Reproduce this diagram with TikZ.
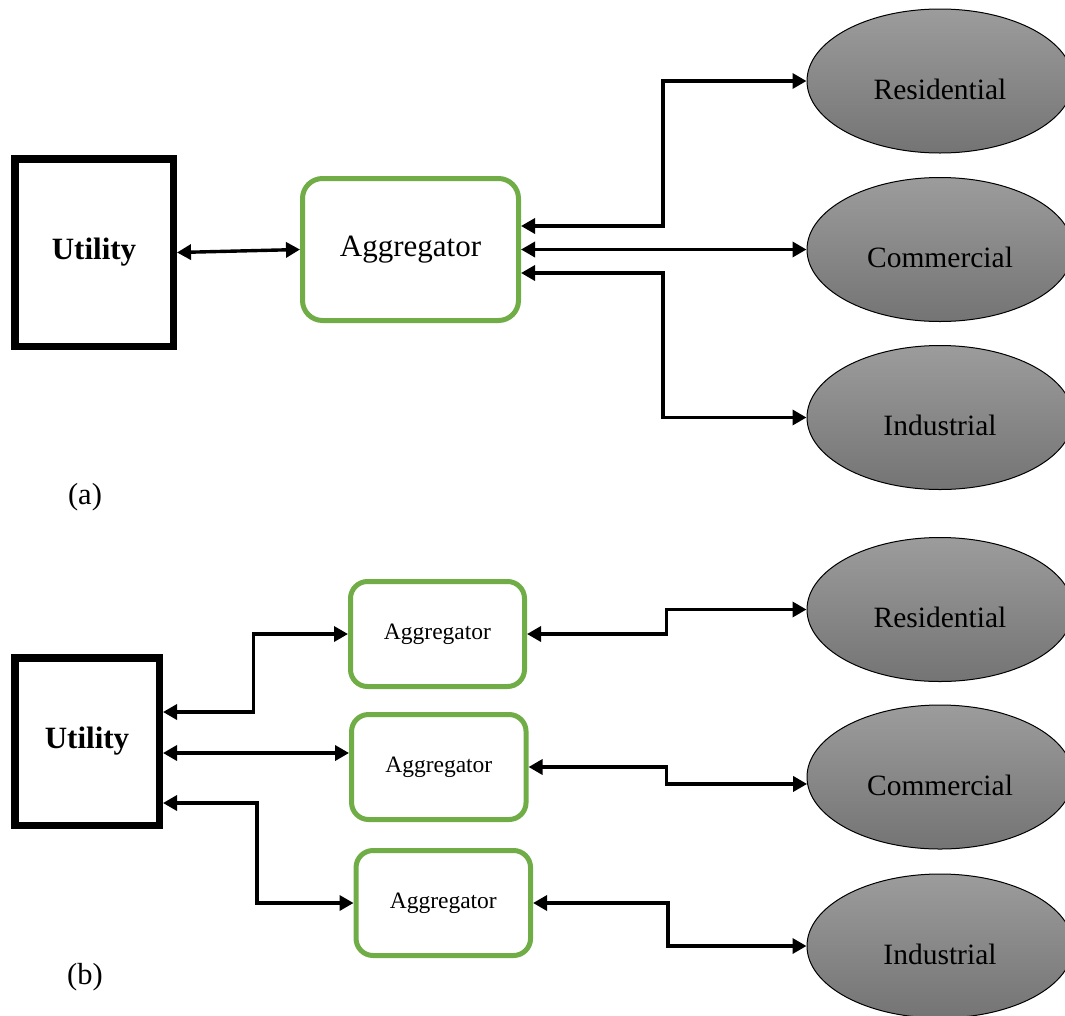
\documentclass[tikz,border=0pt]{standalone}
\usepackage{fontspec}
\setmainfont{Liberation Serif}
\usetikzlibrary{arrows.meta,shapes.geometric}
\definecolor{aggreen}{RGB}{112,173,71}
\definecolor{elltop}{RGB}{156,156,156}
\definecolor{ellbot}{RGB}{116,116,116}
\begin{document}
\begin{tikzpicture}[x=1pt,y=-1pt,
  utilbox/.style={draw=black, line width=7.5pt, fill=white, inner sep=0pt,
    font=\fontsize{31}{36}\selectfont\bfseries},
  aggbox/.style={draw=aggreen, line width=5pt, fill=white, inner sep=0pt},
  consumer/.style={ellipse, draw=black, line width=1pt, top color=elltop, bottom color=ellbot,
    minimum width=266pt, minimum height=144pt, inner sep=0pt,
    font=\fontsize{29.5}{34}\selectfont, text height=36pt, text depth=0pt},
  link/.style={draw=black, line width=3.4pt,
    {Triangle[length=14pt,width=15pt]}-{Triangle[length=14pt,width=15pt]}},
  tag/.style={font=\fontsize{30.5}{36}\selectfont, inner sep=0pt}
]
\useasboundingbox (0,0) rectangle (1065,1015);
\clip (0,0) rectangle (1065,1015);

% ---------- (a) ----------
\node[utilbox, minimum width=158.5pt, minimum height=187.5pt] (utA) at (94,252.5) {Utility};
\node[aggbox, rounded corners=20pt, minimum width=216pt, minimum height=142pt,
      font=\fontsize{31}{36}\selectfont] (aggA) at (410.5,249.5) {Aggregator};
\node[consumer] (resA) at (940,81) {Residential};
\node[consumer] (comA) at (940,249.5) {Commercial};
\node[consumer] (indA) at (940,417.5) {Industrial};

\draw[link] (utA.east) -- (aggA.west);
\draw[link] ([yshift=23.5pt]aggA.east) -- ++(142,0) |- (resA.west);
\draw[link] (aggA.east) -- (comA.west);
\draw[link] ([yshift=-23.5pt]aggA.east) -- ++(142,0) |- (indA.west);

\node[tag] (labA) at (85,497) {(a)};

% ---------- (b) ----------
\node[utilbox, minimum width=144.5pt, minimum height=167.5pt] (utB) at (87,741.5) {Utility};
\node[aggbox, rounded corners=17pt, minimum width=174pt, minimum height=105pt,
      font=\fontsize{23.5}{28}\selectfont] (aggB1) at (437.5,634) {Aggregator};
\node[aggbox, rounded corners=17pt, minimum width=174.5pt, minimum height=105pt,
      font=\fontsize{23.5}{28}\selectfont] (aggB2) at (438.8,767) {Aggregator};
\node[aggbox, rounded corners=17pt, minimum width=174.5pt, minimum height=105pt,
      font=\fontsize{23.5}{28}\selectfont] (aggB3) at (443.3,903) {Aggregator};
\node[consumer] (resB) at (940,609.5) {Residential};
\node[consumer] (comB) at (940,777) {Commercial};
\node[consumer] (indB) at (940,946) {Industrial};

\draw[link] ([yshift=29.5pt]utB.east) -- ++(90.6,0) |- (aggB1.west);
\draw[link] ([yshift=-11.5pt]utB.east) -- ([yshift=-11.5pt]utB.east -| aggB2.west);
\draw[link] ([yshift=-61.5pt]utB.east) -- ++(94,0) |- (aggB3.west);

\draw[link] (aggB1.east) -- ++(139.5,0) |- (resB.west);
\draw[link] (aggB2.east) -- ++(138,0) |- (comB.183.5);
\draw[link] (aggB3.east) -- ++(135,0) |- (indB.west);

\node[tag] (labB) at (85,977) {(b)};
\end{tikzpicture}
\end{document}
